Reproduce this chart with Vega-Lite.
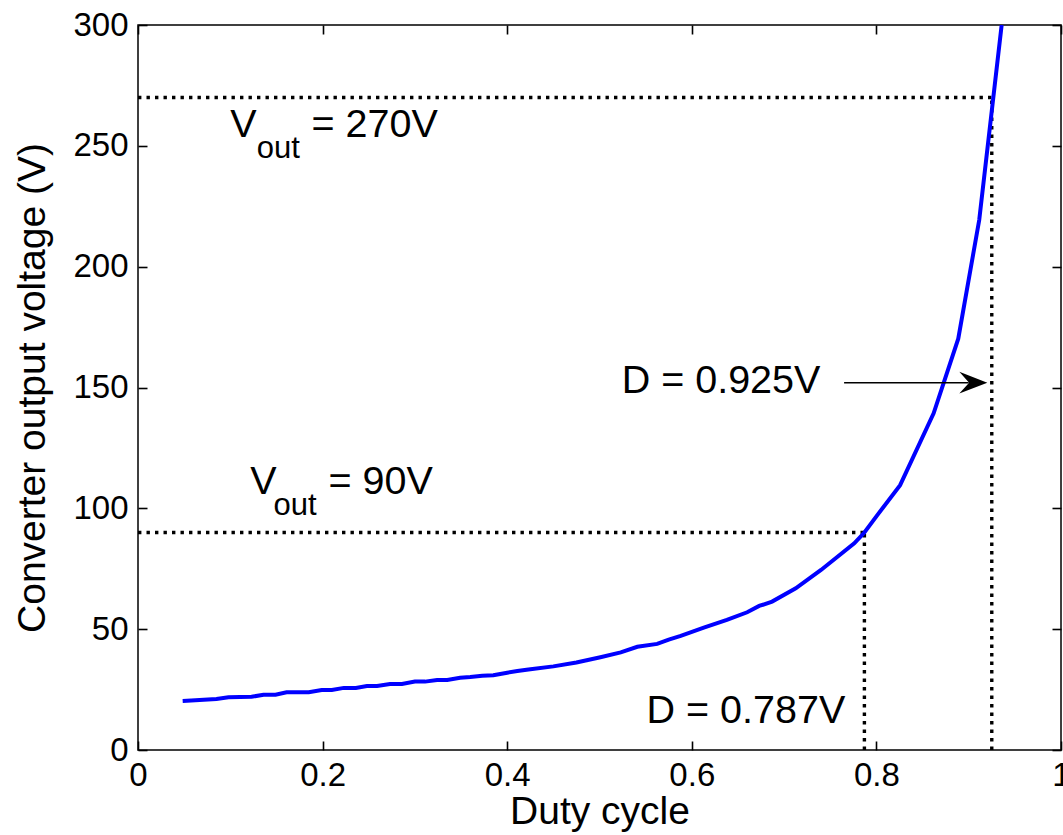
{
  "$schema": "https://vega.github.io/schema/vega-lite/v6.json",
  "width": 923,
  "height": 725,
  "autosize": {"type": "none"},
  "padding": {"left": 138, "top": 25, "right": 2, "bottom": 85},
  "background": "white",
  "config": {
    "font": "Liberation Sans",
    "view": {"stroke": "black", "strokeWidth": 1.5},
    "axis": {
      "grid": false,
      "domain": false,
      "offset": -9,
      "ticks": true,
      "tickColor": "black",
      "tickWidth": 1.6,
      "tickSize": 9,
      "labelFont": "Liberation Sans",
      "labelFontSize": 33,
      "labelColor": "black",
      "labelFlush": false,
      "labelOverlap": false,
      "titleFont": "Liberation Sans",
      "titleFontSize": 39,
      "titleFontWeight": "normal",
      "titleColor": "black"
    }
  },
  "datasets": {
    "curve": [
      {"D": 0.0484, "V": 20.3},
      {"D": 0.085, "V": 21.1},
      {"D": 0.098, "V": 21.8},
      {"D": 0.123, "V": 22.0},
      {"D": 0.136, "V": 22.9},
      {"D": 0.149, "V": 22.9},
      {"D": 0.161, "V": 23.9},
      {"D": 0.185, "V": 23.9},
      {"D": 0.199, "V": 24.8},
      {"D": 0.21, "V": 24.8},
      {"D": 0.223, "V": 25.7},
      {"D": 0.236, "V": 25.7},
      {"D": 0.248, "V": 26.5},
      {"D": 0.259, "V": 26.5},
      {"D": 0.273, "V": 27.3},
      {"D": 0.286, "V": 27.3},
      {"D": 0.3, "V": 28.3},
      {"D": 0.311, "V": 28.3},
      {"D": 0.324, "V": 29.0},
      {"D": 0.335, "V": 29.0},
      {"D": 0.349, "V": 29.9},
      {"D": 0.36, "V": 30.2},
      {"D": 0.373, "V": 30.7},
      {"D": 0.385, "V": 30.9},
      {"D": 0.4, "V": 32.0},
      {"D": 0.411, "V": 32.7},
      {"D": 0.423, "V": 33.3},
      {"D": 0.45, "V": 34.6},
      {"D": 0.475, "V": 36.2},
      {"D": 0.501, "V": 38.4},
      {"D": 0.523, "V": 40.4},
      {"D": 0.541, "V": 42.7},
      {"D": 0.5625, "V": 43.9},
      {"D": 0.575, "V": 45.7},
      {"D": 0.588, "V": 47.2},
      {"D": 0.613, "V": 50.6},
      {"D": 0.638, "V": 53.8},
      {"D": 0.66, "V": 57.0},
      {"D": 0.673, "V": 59.6},
      {"D": 0.687, "V": 61.4},
      {"D": 0.7126, "V": 66.9},
      {"D": 0.74, "V": 74.5},
      {"D": 0.776, "V": 85.5},
      {"D": 0.787, "V": 90.0},
      {"D": 0.801, "V": 97.2},
      {"D": 0.8257, "V": 109.6},
      {"D": 0.862, "V": 139.3},
      {"D": 0.8887, "V": 170.2},
      {"D": 0.9114, "V": 219.3},
      {"D": 0.9357, "V": 300.0}
    ],
    "guides": [
      {"D": 0, "D2": 0.925, "V": 270, "V2": 270},
      {"D": 0.925, "D2": 0.925, "V": 0, "V2": 270},
      {"D": 0, "D2": 0.787, "V": 90, "V2": 90},
      {"D": 0.787, "D2": 0.787, "V": 0, "V2": 90}
    ],
    "arrow": [
      {"D": 0.765, "D2": 0.9, "V": 152}
    ],
    "arrowhead": [
      {"D": 0.905, "V": 152}
    ],
    "bigText": [
      {"D": 0.1, "V": 253.8, "t": "V"},
      {"D": 0.188, "V": 253.8, "t": "= 270V"},
      {"D": 0.1215, "V": 105.9, "t": "V"},
      {"D": 0.2064, "V": 105.9, "t": "= 90V"},
      {"D": 0.524, "V": 147.9, "t": "D = 0.925V"},
      {"D": 0.551, "V": 11.3, "t": "D = 0.787V"}
    ],
    "subText": [
      {"D": 0.1287, "V": 244.8, "t": "out"},
      {"D": 0.1468, "V": 97.2, "t": "out"}
    ]
  },
  "resolve": {"axis": {"x": "independent", "y": "independent"}},
  "layer": [
    {
      "data": {"name": "guides"},
      "mark": {"type": "rule", "color": "black", "strokeWidth": 3.4, "strokeDash": [3.4, 5.1], "strokeCap": "butt"},
      "encoding": {
        "x": {"field": "D", "type": "quantitative", "scale": {"domain": [0, 1], "nice": false},
              "axis": {"orient": "top", "values": [0, 0.2, 0.4, 0.6, 0.8, 1], "labels": false, "title": null}},
        "x2": {"field": "D2"},
        "y": {"field": "V", "type": "quantitative", "scale": {"domain": [0, 300], "nice": false},
              "axis": {"orient": "right", "values": [0, 50, 100, 150, 200, 250, 300], "labels": false, "title": null}},
        "y2": {"field": "V2"}
      }
    },
    {
      "data": {"name": "curve"},
      "mark": {"type": "line", "color": "#0000ff", "strokeWidth": 4, "clip": true},
      "encoding": {
        "x": {"field": "D", "type": "quantitative", "scale": {"domain": [0, 1], "nice": false},
              "axis": {"orient": "bottom", "values": [0, 0.2, 0.4, 0.6, 0.8, 1], "format": "~g", "labelPadding": 9, "title": "Duty cycle", "titlePadding": 0}},
        "y": {"field": "V", "type": "quantitative", "scale": {"domain": [0, 300], "nice": false},
              "axis": {"orient": "left", "values": [0, 50, 100, 150, 200, 250, 300], "labelPadding": 10, "title": "Converter output voltage (V)", "titlePadding": 20}}
      }
    },
    {
      "data": {"name": "arrow"},
      "mark": {"type": "rule", "color": "black", "strokeWidth": 1.5},
      "encoding": {
        "x": {"field": "D", "type": "quantitative", "axis": null},
        "x2": {"field": "D2"},
        "y": {"field": "V", "type": "quantitative", "axis": null}
      }
    },
    {
      "data": {"name": "arrowhead"},
      "mark": {"type": "point", "shape": "M 1 0 L -1 -0.78 L -0.3 0 L -1 0.78 Z", "size": 784, "filled": true, "color": "black", "opacity": 1, "strokeWidth": 0},
      "encoding": {
        "x": {"field": "D", "type": "quantitative", "axis": null},
        "y": {"field": "V", "type": "quantitative", "axis": null}
      }
    },
    {
      "data": {"name": "bigText"},
      "mark": {"type": "text", "font": "Liberation Sans", "fontSize": 39.5, "align": "left", "baseline": "alphabetic", "color": "black"},
      "encoding": {
        "x": {"field": "D", "type": "quantitative", "axis": null},
        "y": {"field": "V", "type": "quantitative", "axis": null},
        "text": {"field": "t"}
      }
    },
    {
      "data": {"name": "subText"},
      "mark": {"type": "text", "font": "Liberation Sans", "fontSize": 31, "align": "left", "baseline": "alphabetic", "color": "black"},
      "encoding": {
        "x": {"field": "D", "type": "quantitative", "axis": null},
        "y": {"field": "V", "type": "quantitative", "axis": null},
        "text": {"field": "t"}
      }
    }
  ]
}
